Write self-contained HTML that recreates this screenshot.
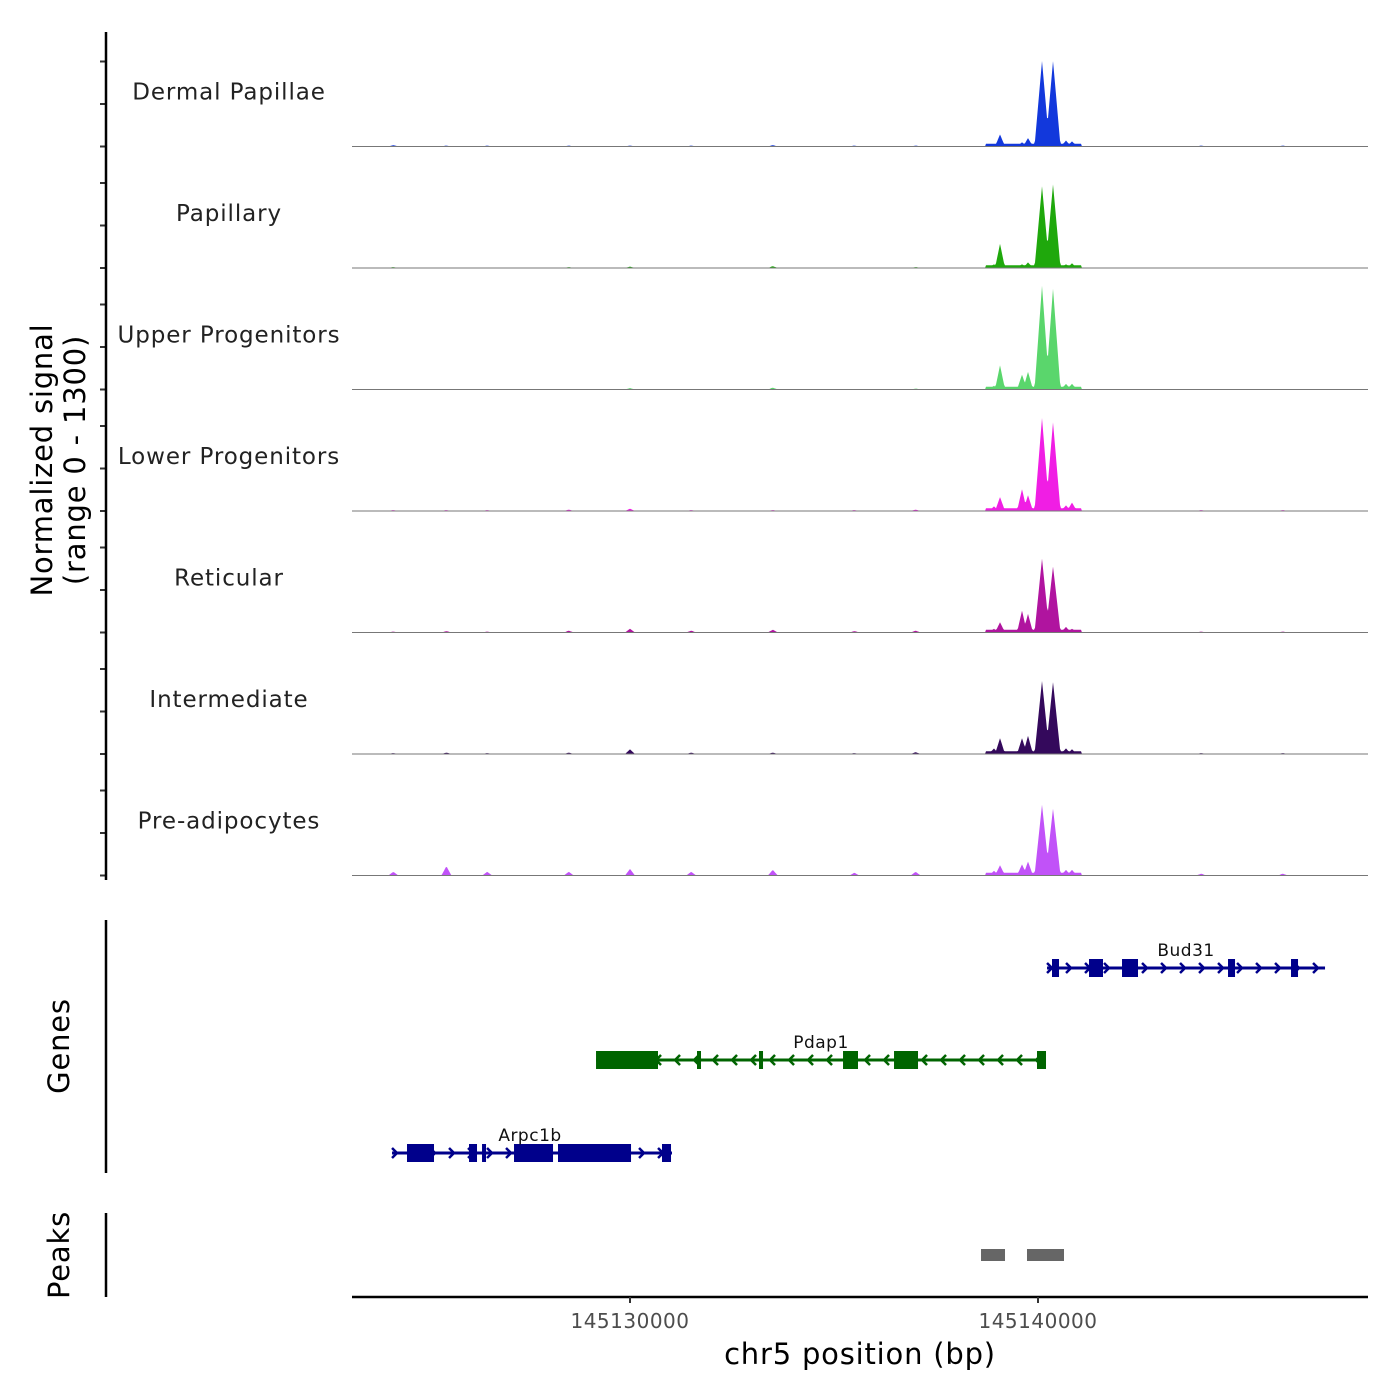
<!DOCTYPE html>
<html><head><meta charset="utf-8"><style>
body{margin:0;background:#fff}
svg{display:block;font-family:"DejaVu Sans","Liberation Sans",sans-serif}
</style></head><body>
<svg id="chart" width="1400" height="1400" viewBox="0 0 1400 1400">
<g id="tracks"></g>
<g id="genes"></g>
<g id="axes"></g>
</svg>
<script>
const trackNames = ["Dermal Papillae","Papillary","Upper Progenitors","Lower Progenitors","Reticular","Intermediate","Pre-adipocytes"];
const trackColors = ["#1238dc","#1fa80c","#5ad66c","#f01ee4","#b0149f","#34095c","#c152f8"];
const peakCenters = [145138920,145139069,145139608,145139755,145140098,145140368,145140686,145140833];
const dpHeights = [30,130,45,90,920,920,65,55];
const papHeights = [40,260,40,60,880,900,40,50];
const upHeights = [40,260,160,190,1115,1085,60,60];
const lowHeights = [50,150,235,170,1000,955,60,90];
const retHeights = [40,110,235,200,795,710,60,40];
const intHeights = [60,170,170,195,785,775,60,50];
const preHeights = [50,110,120,150,760,720,60,60];
const trackHeights = [dpHeights,papHeights,upHeights,lowHeights,retHeights,intHeights,preHeights];
const bgPositions = [145124200,145125500,145126500,145128500,145130000,145131500,145133500,145135500,145137000,145144000,145146000];
const dpBg = [15,10,10,10,10,10,15,10,10,10,10];
const papBg = [10,5,5,10,15,5,20,5,10,5,5];
const upBg = [5,5,5,5,15,5,20,5,10,5,5];
const lowBg = [10,10,10,15,25,10,10,10,15,10,10];
const retBg = [10,15,10,20,40,20,30,15,20,10,10];
const intBg = [10,15,10,15,50,15,15,10,20,10,10];
const preBg = [40,100,40,40,70,40,60,30,40,20,20];
const bgHeights = [dpBg,papBg,upBg,lowBg,retBg,intBg,preBg];
const xTicks = [145130000,145140000];
const genes = ["Bud31","Pdap1","Arpc1b"];
const geneStart = [145140221,145129167,145124167];
const geneEnd = [145147035,145140196,145131029];
const geneStrand = [1,-1,1];
const geneRow = [0,1,2];
const bud31Exons = [[145140343,145140515],[145141250,145141593],[145142059,145142451],[145144657,145144829],[145146201,145146373]];
const pdap1Exons = [[145129167,145130686],[145131642,145131740],[145133162,145133260],[145135221,145135588],[145136471,145137059],[145139975,145140196]];
const arpc1bExons = [[145124534,145125196],[145126054,145126250],[145126373,145126446],[145127157,145128113],[145128235,145130025],[145130784,145131005]];
const geneExons = [bud31Exons,pdap1Exons,arpc1bExons];
const peakStart = [145138603,145139730];
const peakEnd = [145139191,145140637];

const NS="http://www.w3.org/2000/svg";
const X0=352,X1=1368,BP0=145123186,BP1=145148088;
function xs(bp){return X0+(bp-BP0)/(BP1-BP0)*(X1-X0);}
const TRACK_TOP=25, TRACK_H=121.5, VMAX=1300;
function ys(v,t){const base=TRACK_TOP+TRACK_H*(t+1);return base - v/VMAX*121;}
function el(tag,attrs,parent,text){const e=document.createElementNS(NS,tag);for(const k in attrs)e.setAttribute(k,attrs[k]);if(text!==undefined)e.textContent=text;parent.appendChild(e);return e;}

const tg=document.getElementById('tracks');
for(let t=0;t<trackNames.length;t++){
  const base=ys(0,t);
  const pts=[];
  for(let px=X0;px<=X1;px+=1){
    let v=0;
    for(let i=0;i<peakCenters.length;i++){
      const cx=xs(peakCenters[i]);const hw=(trackHeights[t][i]>500)?7.5:5;
      const d=Math.abs(px-cx);if(d<hw)v=Math.max(v,trackHeights[t][i]*(1-d/hw));
    }
    for(let i=0;i<bgPositions.length;i++){
      const cx=xs(bgPositions[i]);const d=Math.abs(px-cx);
      if(d<5)v=Math.max(v,bgHeights[t][i]*(1-d/5));
    }
    const c1=xs(peakCenters[4]),c2=xs(peakCenters[5]);
    if(px>c1-4&&px<c2+4)v=Math.max(v,trackHeights[t][4]*0.28);
    if(px>xs(peakCenters[0])-8&&px<xs(peakCenters[7])+10)v=Math.max(v,30);
    pts.push([px,ys(v,t)]);
  }
  let d="M"+X0+","+base;
  for(const p of pts)d+="L"+p[0]+","+p[1].toFixed(1);
  d+="L"+X1+","+base+"Z";
  const a=el('path',{d:d,fill:trackColors[t]},tg);
  
  
  const bl=el('line',{x1:X0,x2:X1,y1:base,y2:base,stroke:'#777','stroke-width':1},tg);
  
  
  const lb=el('text',{x:229,y:base-47,'text-anchor':'middle','font-size':23,fill:'#222','letter-spacing':'0.9'},tg,trackNames[t]);
  
  
  const ticks=[0,500,1000];
  for(const tv of ticks){
    const ty=base-tv*0.085;
    const tk=el('line',{x1:100,x2:106,y1:ty,y2:ty,stroke:'#333','stroke-width':2},tg);
    
    
  }
}

const gg=document.getElementById('genes');
const rowY=[968,1060,1153];
const gcol=["#00008b","#006400","#00008b"];
for(let g=0;g<genes.length;g++){
  const y=rowY[geneRow[g]],col=gcol[g];
  const x1=xs(geneStart[g]),x2=xs(geneEnd[g]);
  const ln=el('line',{x1:x1,x2:x2,y1:y,y2:y,stroke:col,'stroke-width':3},gg);
  
  
  for(let ax=x1+4;ax<=x2;ax+=19){
    const s=geneStrand[g];
    const ar=el('polyline',{points:`${ax-4*s},${y-5} ${ax+1*s},${y} ${ax-4*s},${y+5}`,fill:'none',stroke:col,'stroke-width':2.5},gg);
    
    
  }
  for(const ex of geneExons[g]){
    const ea=xs(ex[0]),eb=xs(ex[1]);
    const r=el('rect',{x:ea,y:y-9,width:Math.max(4,eb-ea),height:18,fill:col},gg);
    
    
  }
  const lt=el('text',{x:(x1+x2)/2+(g===2?-2:0),y:y-12,'text-anchor':'middle','font-size':17,fill:'#111','letter-spacing':'0.5'},gg,genes[g]);
  
  
}
for(let i=0;i<peakStart.length;i++){
  const a=xs(peakStart[i]),b=xs(peakEnd[i]);
  const r=el('rect',{x:a,y:1249,width:b-a,height:12,fill:'#666'},gg);
  
  
}

const ag=document.getElementById('axes');
const axl=[[32,880],[920,1173],[1213,1297]];
for(const s of axl){
  const l=el('line',{x1:106,x2:106,y1:s[0],y2:s[1],stroke:'#000','stroke-width':2.5},ag);
  
  
}
const xl=el('line',{x1:X0,x2:X1,y1:1297,y2:1297,stroke:'#000','stroke-width':2.5},ag);


for(const t of xTicks){
  const x=xs(t);
  const tk=el('line',{x1:x,x2:x,y1:1297,y2:1303,stroke:'#333','stroke-width':2},ag);
  
  
  const tl=el('text',{x:x,y:1328,'text-anchor':'middle','font-size':20,fill:'#4d4d4d','letter-spacing':'0.5'},ag,String(t));
  
  
}
const xt=el('text',{x:860,y:1364,'text-anchor':'middle','font-size':29,fill:'#000','letter-spacing':'0.8'},ag,'chr5 position (bp)');


const yt1=el('text',{x:0,y:0,'text-anchor':'middle','font-size':29,fill:'#000','letter-spacing':'0.8',transform:'translate(52,460) rotate(-90)'},ag,'Normalized signal');


const yt2=el('text',{x:0,y:0,'text-anchor':'middle','font-size':29,fill:'#000','letter-spacing':'0.8',transform:'translate(85,460) rotate(-90)'},ag,'(range 0 - 1300)');


const gt=el('text',{x:0,y:0,'text-anchor':'middle','font-size':29,fill:'#000','letter-spacing':'0.8',transform:'translate(69,1046) rotate(-90)'},ag,'Genes');


const pt=el('text',{x:0,y:0,'text-anchor':'middle','font-size':29,fill:'#000','letter-spacing':'0.8',transform:'translate(69,1255) rotate(-90)'},ag,'Peaks');


</script>
</body></html>
